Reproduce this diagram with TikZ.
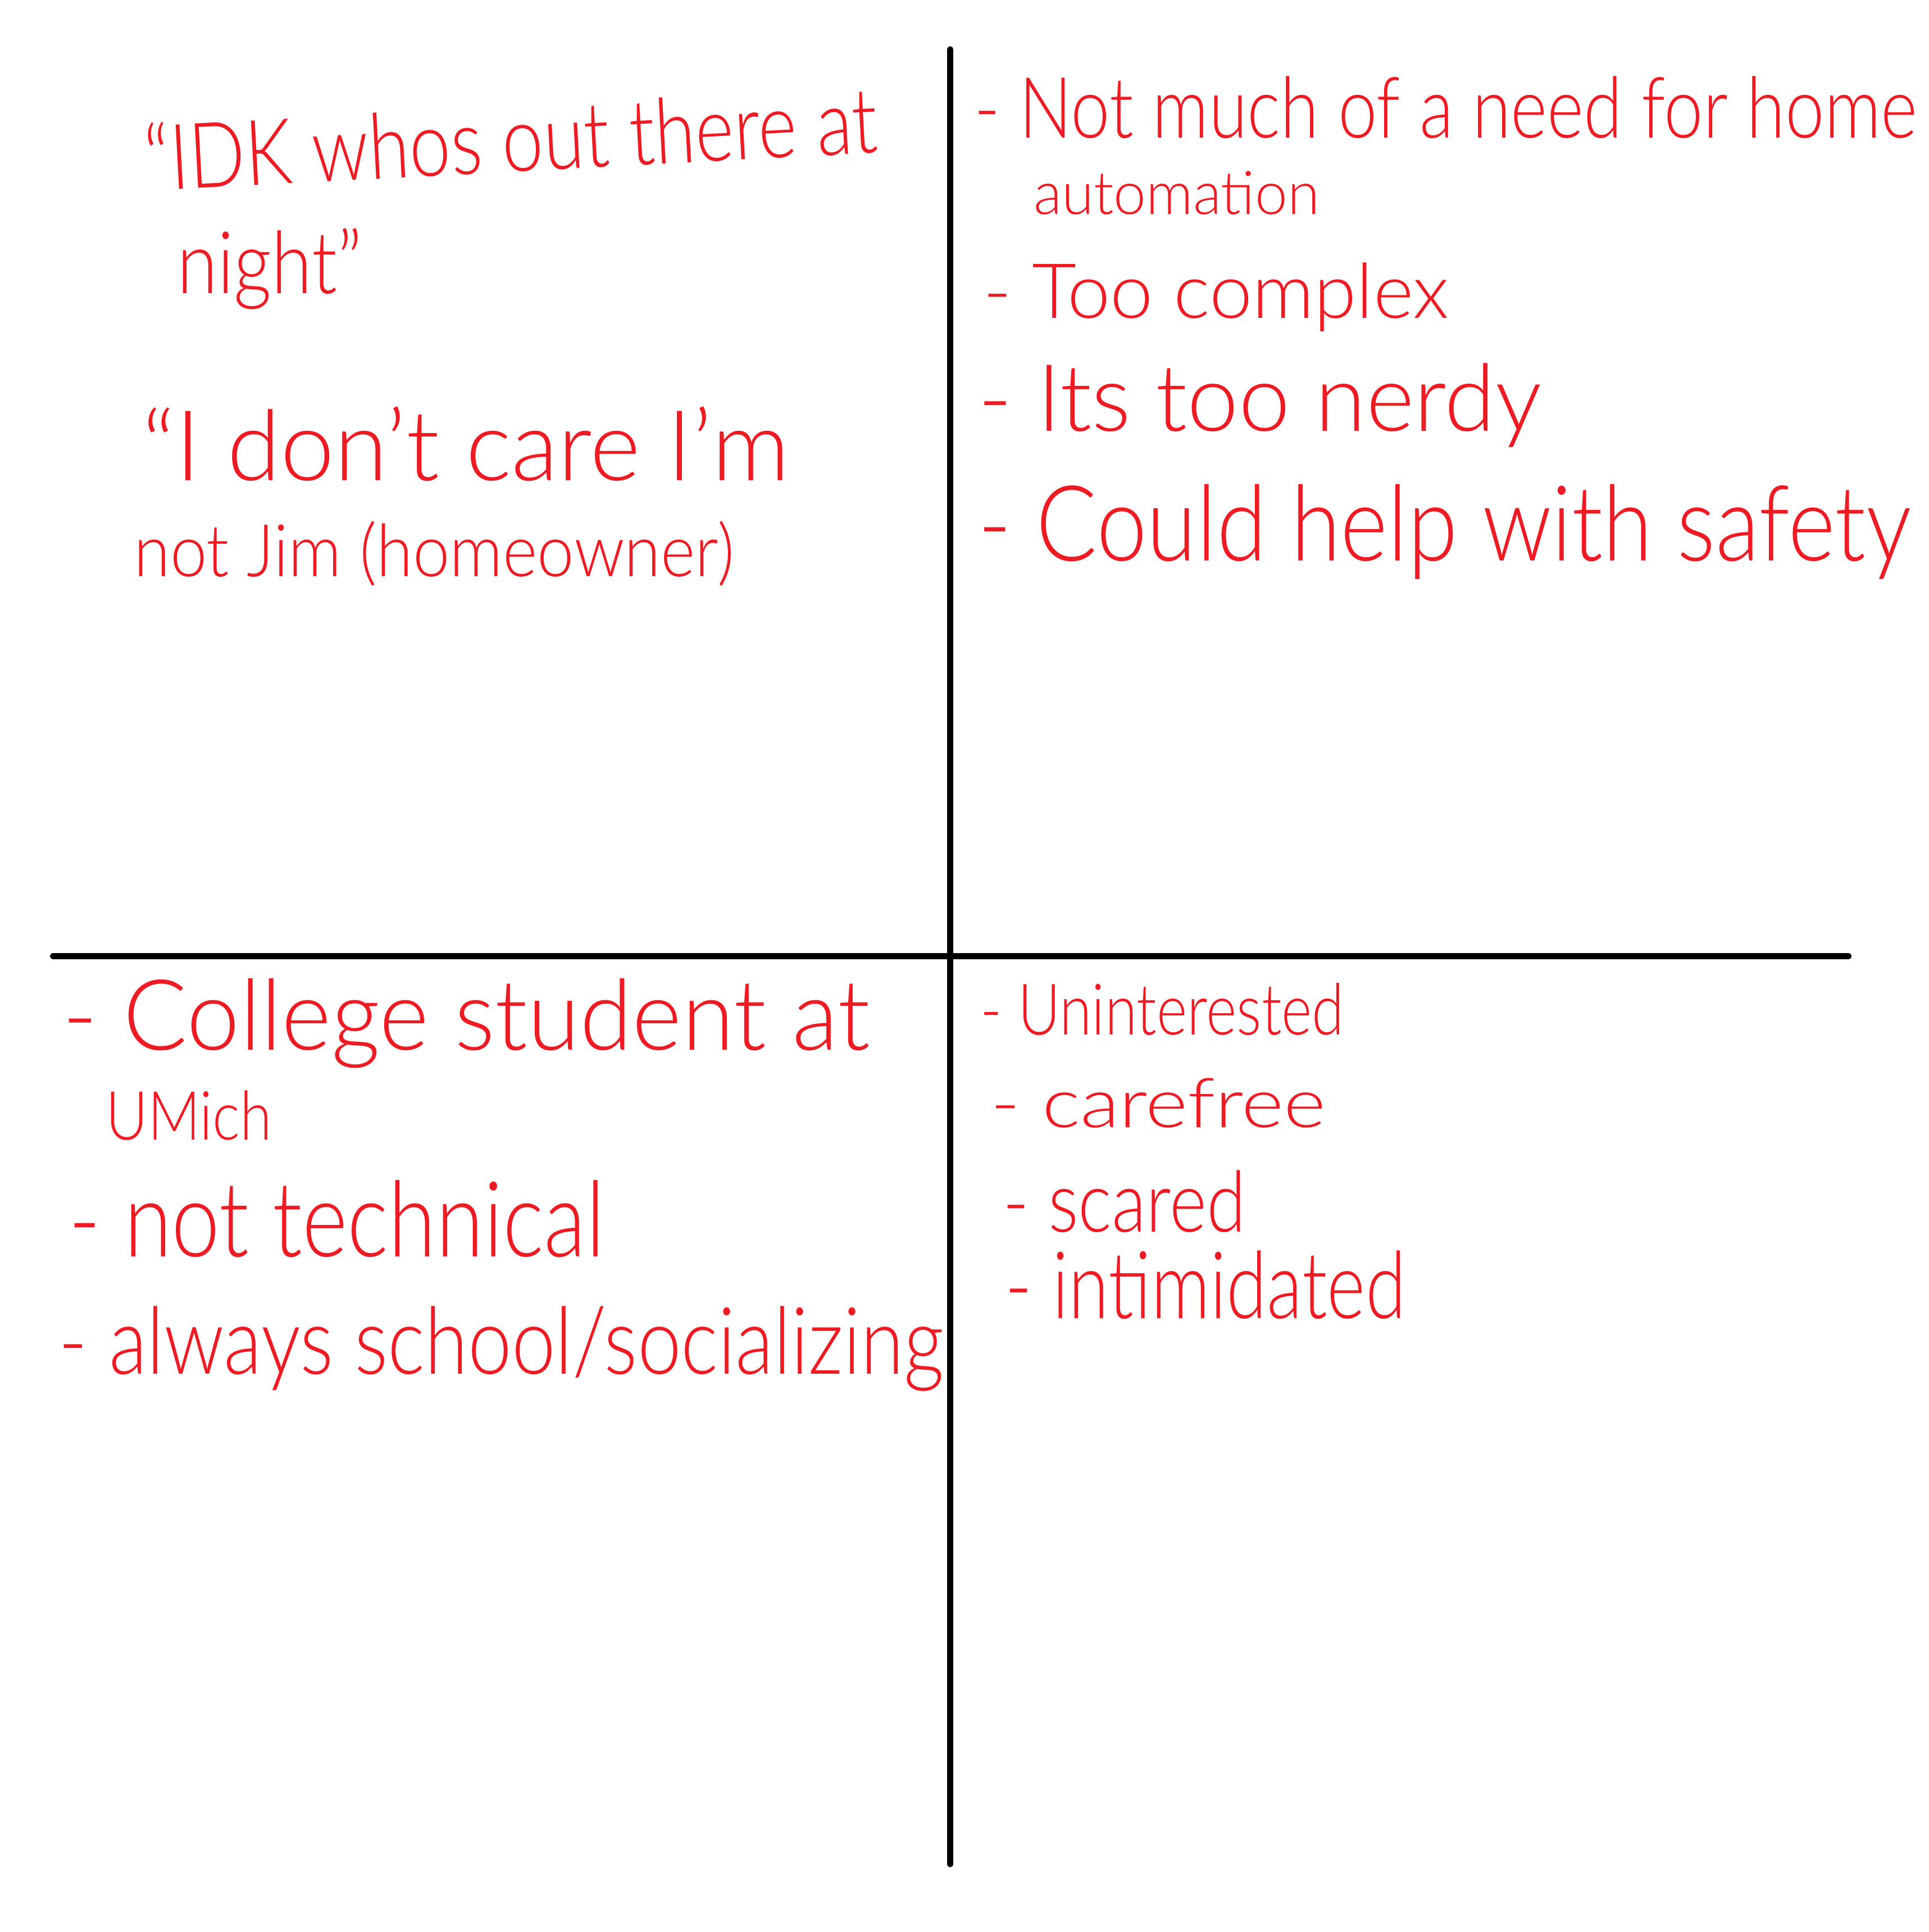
\documentclass[tikz,border=0pt]{standalone}
\usepackage{fontspec}
\setmainfont{Lato}[UprightFont=* Light]
\usepackage{xcolor}
\usepackage{graphicx}
\usetikzlibrary{positioning}
\definecolor{inkred}{RGB}{237, 28, 36}
\newcommand{\scrawl}[3]{\resizebox{#1}{#2}{#3}}

\begin{document}
\begin{tikzpicture}[
          axis/.style={draw=black, line width=1.4pt, line cap=round},
          note/.style={text=inkred, anchor=base west, inner sep=0pt, font=\fontsize{20}{24}\selectfont}
        ]
          \useasboundingbox[fill=white] (0,0) rectangle (15.65,-15.68);

          % Quadrant axes
          \coordinate (top) at (7.71, -0.40);
          \coordinate (bottom) at (7.71, -15.13);
          \coordinate (left) at (0.43, -7.76);
          \coordinate (right) at (15.00, -7.76);
          \draw[axis] (top) -- (bottom);
          \draw[axis] (left) -- (right);

          % Top left: quotes
          \node[note, rotate=3] (idk) at (1.18, -1.55) {\scrawl{5.95cm}{0.55cm}{“IDK whos out there at}};
          \node[note] (night) at (1.43, -2.38) {\scrawl{1.50cm}{0.53cm}{night”}};
          \node[note] (care) at (1.15, -3.90) {\scrawl{5.25cm}{0.60cm}{“I don’t care I’m}};
          \node[note] (jim) at (1.08, -4.68) {\scrawl{4.87cm}{0.45cm}{not Jim (homeowner)}};

          % Top right: thoughts
          \node[note] (need) at (7.90, -1.12) {\scrawl{7.65cm}{0.50cm}{- Not much of a need for home}};
          \node[note] (automation) at (8.38, -1.74) {\scrawl{2.32cm}{0.35cm}{automation}};
          \node[note] (complex) at (7.97, -2.58) {\scrawl{3.78cm}{0.45cm}{- Too complex}};
          \node[note] (nerdy) at (7.93, -3.50) {\scrawl{4.57cm}{0.55cm}{- Its too nerdy}};
          \node[note] (safety) at (7.93, -4.55) {\scrawl{7.57cm}{0.62cm}{- Could help with safety}};

          % Bottom left: facts
          \node[note] (college) at (0.50, -8.52) {\scrawl{6.55cm}{0.58cm}{- College student at}};
          \node[note] (umich) at (0.85, -9.25) {\scrawl{1.35cm}{0.40cm}{UMich}};
          \node[note] (technical) at (0.55, -10.20) {\scrawl{4.35cm}{0.62cm}{- not technical}};
          \node[note] (school) at (0.47, -11.15) {\scrawl{7.18cm}{0.55cm}{- always school/socializing}};

          % Bottom right: feelings
          \node[note] (uninterested) at (7.95, -8.40) {\scrawl{2.95cm}{0.42cm}{- Uninterested}};
          \node[note] (carefree) at (8.03, -9.15) {\scrawl{2.72cm}{0.40cm}{- carefree}};
          \node[note] (scared) at (8.13, -10.00) {\scrawl{1.97cm}{0.50cm}{- scared}};
          \node[note] (intimidated) at (8.15, -10.70) {\scrawl{3.25cm}{0.55cm}{- intimidated}};
        \end{tikzpicture}
\end{document}
